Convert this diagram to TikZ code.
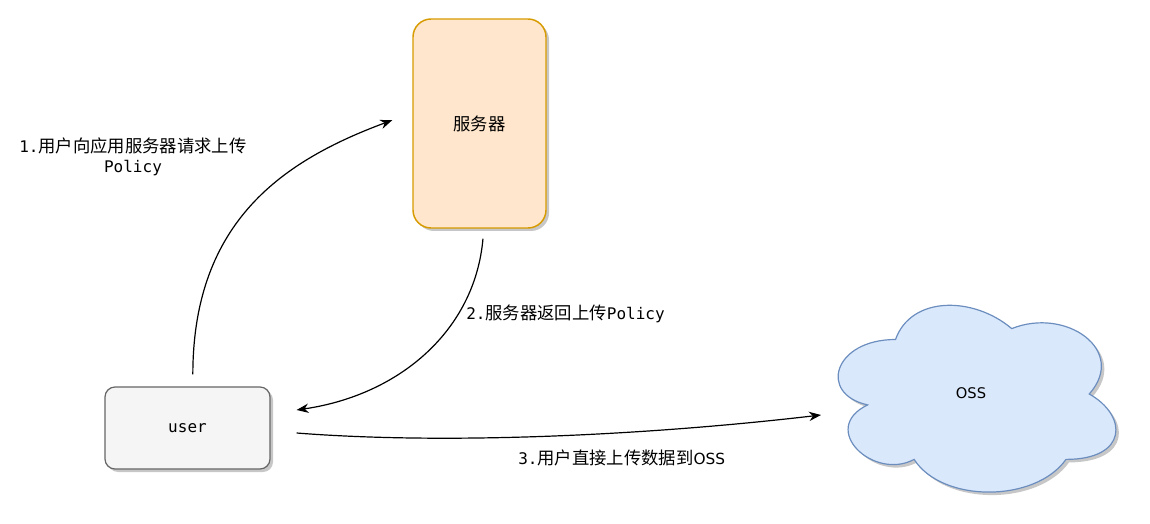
\documentclass[tikz,border=0pt]{standalone}
\usepackage{fontspec}
\usetikzlibrary{arrows.meta,shadows}
\newfontfamily\cjk{Noto Sans CJK SC}
\newfontfamily\monof{DejaVu Sans Mono}
\newfontfamily\sansf{DejaVu Sans}
\definecolor{srvfill}{HTML}{FFE6CC}
\definecolor{srvline}{HTML}{D79B00}
\definecolor{usrfill}{HTML}{F5F5F5}
\definecolor{usrline}{HTML}{666666}
\definecolor{cldfill}{HTML}{DAE8FC}
\definecolor{cldline}{HTML}{6C8EBF}
\newcommand{\mtxt}[1]{{\monof\fontsize{12}{15}\selectfont #1}}
\newcommand{\ctxt}[1]{{\cjk\fontsize{13}{15}\selectfont #1}}
\newcommand{\stxt}[1]{{\sansf\fontsize{11.5}{15}\selectfont #1}}
\tikzset{
  boxshadow/.style={drop shadow={shadow xshift=2.25pt,shadow yshift=-2.25pt,fill=black,opacity=0.22}},
  srvbox/.style={draw=srvline,fill=srvfill,line width=1.1pt,rounded corners=13.5pt,
    minimum width=99.75pt,minimum height=156.75pt,inner sep=0pt,boxshadow,
    font=\cjk\fontsize{13}{15}\selectfont},
  usrbox/.style={draw=usrline,fill=usrfill,line width=0.9pt,rounded corners=7.5pt,
    minimum width=123.75pt,minimum height=61.5pt,inner sep=0pt,boxshadow,
    font=\monof\fontsize{12}{14}\selectfont},
  conn/.style={line width=0.9pt,-{Stealth[length=9pt,width=7pt]}},
  lbl/.style={inner sep=0pt,font=\fontsize{12}{15}\selectfont}
}
\begin{document}
\begin{tikzpicture}[x=0.75pt,y=-0.75pt]
\useasboundingbox (0,0) rectangle (1150,524);
% server
\node[srvbox] (server) at (479.5,123.5) {服务器};
% user
\node[usrbox] (user) at (187.5,428) {user};
% cloud shadow
\begin{scope}[shift={(821,288)},x=232.5pt,y=-163.5pt]
  \fill[black,opacity=0.22] (0.25,0.25) .. controls (0.05,0.25) and (0,0.5) .. (0.16,0.55)
    .. controls (0,0.66) and (0.18,0.9) .. (0.31,0.8)
    .. controls (0.4,1) and (0.7,1) .. (0.8,0.8)
    .. controls (1,0.8) and (1,0.6) .. (0.875,0.5)
    .. controls (1,0.3) and (0.8,0.1) .. (0.625,0.2)
    .. controls (0.5,0.05) and (0.3,0.05) .. (0.25,0.25) -- cycle;
\end{scope}
% cloud
\begin{scope}[shift={(818,285)},x=232.5pt,y=-163.5pt]
  \draw[cldline,fill=cldfill,line width=0.9pt] (0.25,0.25) .. controls (0.05,0.25) and (0,0.5) .. (0.16,0.55)
    .. controls (0,0.66) and (0.18,0.9) .. (0.31,0.8)
    .. controls (0.4,1) and (0.7,1) .. (0.8,0.8)
    .. controls (1,0.8) and (1,0.6) .. (0.875,0.5)
    .. controls (1,0.3) and (0.8,0.1) .. (0.625,0.2)
    .. controls (0.5,0.05) and (0.3,0.05) .. (0.25,0.25) -- cycle;
\end{scope}
\node[inner sep=0pt,font=\sansf\fontsize{11}{12}\selectfont] (oss) at (971,393.5) {OSS};
\coordinate (ossin) at (821,415);
% connectors
\draw[conn] ([xshift=4pt,yshift=9pt]user.north) .. controls (193,220) and (285,160) .. ([xshift=-15pt,yshift=2.5pt]server.west);
\draw[conn] ([xshift=2.6pt,yshift=-7.5pt]server.south) .. controls (475,330) and (400,395) .. ([xshift=19.5pt,yshift=13.5pt]user.east);
\draw[conn] ([xshift=19.5pt,yshift=-3.75pt]user.east) .. controls (450,445) and (650,435) .. (ossin);
% labels
\node[lbl,align=center] (l1) at (133,157) {\mtxt{1.}\ctxt{用户向应用服务器请求上传}\\\mtxt{Policy}};
\node[lbl,anchor=west] (l2) at (466,314) {\mtxt{2.}\ctxt{服务器返回上传}\mtxt{Policy}};
\node[lbl,anchor=west] (l3) at (518,458) {\mtxt{3.}\ctxt{用户直接上传数据到}\stxt{OSS}};
\end{tikzpicture}
\end{document}
